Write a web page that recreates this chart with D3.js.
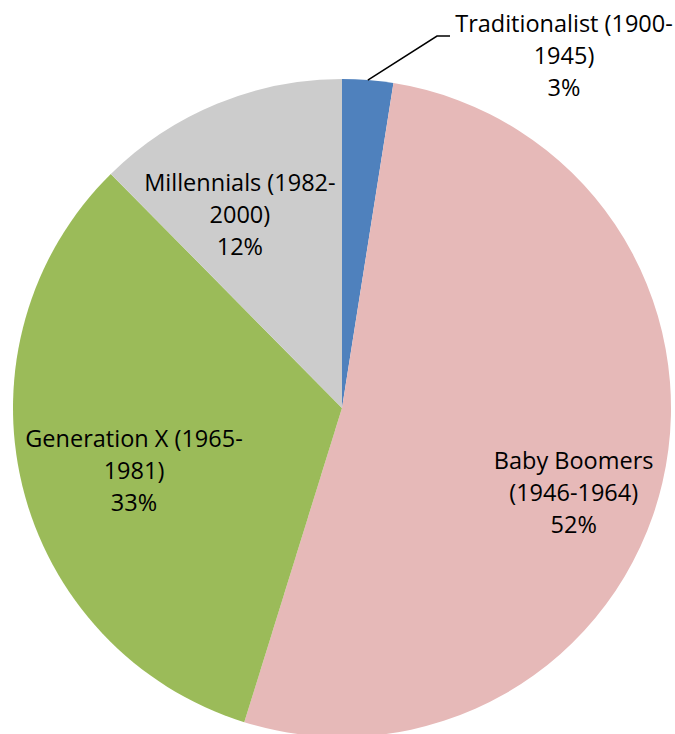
<!DOCTYPE html>
<html>
<head>
<meta charset="utf-8">
<script src="https://cdn.jsdelivr.net/npm/d3@7"></script>
<style>
  body { margin: 0; background: #fff; }
  text { font-family: "Open Sans", sans-serif; font-size: 23.5px; fill: #000; }
</style>
</head>
<body>
<script>
var generations = ["Traditionalist (1900-1945)", "Baby Boomers (1946-1964)", "Generation X (1965-1981)", "Millennials (1982-2000)"];
var labelLines = [["Traditionalist (1900-", "1945)"], ["Baby Boomers", "(1946-1964)"], ["Generation X (1965-", "1981)"], ["Millennials (1982-", "2000)"]];
var shares = [2.5, 52.3, 32.8, 12.4];
var colors = ["#4f81bd", "#e6b9b8", "#9bbb59", "#cccccc"];

var width = 675, height = 734;
var cx = 342, cy = 408, radius = 329;

// label placement: fraction of radius and angle shift (deg) per slice
var labelRadius = [1.08, 0.75, 0.66, 0.665];
var labelShift = [0, 7, -3, -5.5];

var svg = d3.select("body").append("svg")
    .attr("width", width)
    .attr("height", height);

var g = svg.append("g")
    .attr("transform", "translate(" + cx + "," + cy + ")");

var pie = d3.pie().sort(null).value(function (d) { return d; });
var arcs = pie(shares);

var arc = d3.arc().innerRadius(0).outerRadius(radius);

g.selectAll("path")
    .data(arcs)
    .enter()
    .append("path")
    .attr("d", arc)
    .attr("fill", function (d, i) { return colors[i]; });

function polar(angle, r) {
    return [Math.sin(angle) * r, -Math.cos(angle) * r];
}

var labelPos = arcs.map(function (d, i) {
    var mid = (d.startAngle + d.endAngle) / 2 + labelShift[i] * Math.PI / 180;
    return polar(mid, radius * labelRadius[i]);
});
// the small slice gets its label pulled out to the upper right
labelPos[0] = [222, -352];

// leader line for the outside label
var a0 = (arcs[0].startAngle + arcs[0].endAngle) / 2;
var p0 = polar(a0, radius);
g.append("polyline")
    .attr("points", [p0, [95, -372], [108, -372]].map(function (p) { return p.join(","); }).join(" "))
    .attr("fill", "none")
    .attr("stroke", "#000")
    .attr("stroke-width", 1.5);

var lineH = 32;
var labels = g.selectAll("text.lbl")
    .data(arcs)
    .enter()
    .append("text")
    .attr("class", "lbl")
    .attr("text-anchor", "middle")
    .attr("transform", function (d, i) {
        return "translate(" + labelPos[i][0] + "," + labelPos[i][1] + ")";
    });

labels.each(function (d, i) {
    var t = d3.select(this);
    var lines = labelLines[i].concat([Math.round(shares[i]) + "%"]);
    lines.forEach(function (s, k) {
        t.append("tspan")
            .attr("x", 0)
            .attr("y", (k - 1) * lineH)
            .attr("dy", "0.35em")
            .text(s);
    });
});
</script>
</body>
</html>
